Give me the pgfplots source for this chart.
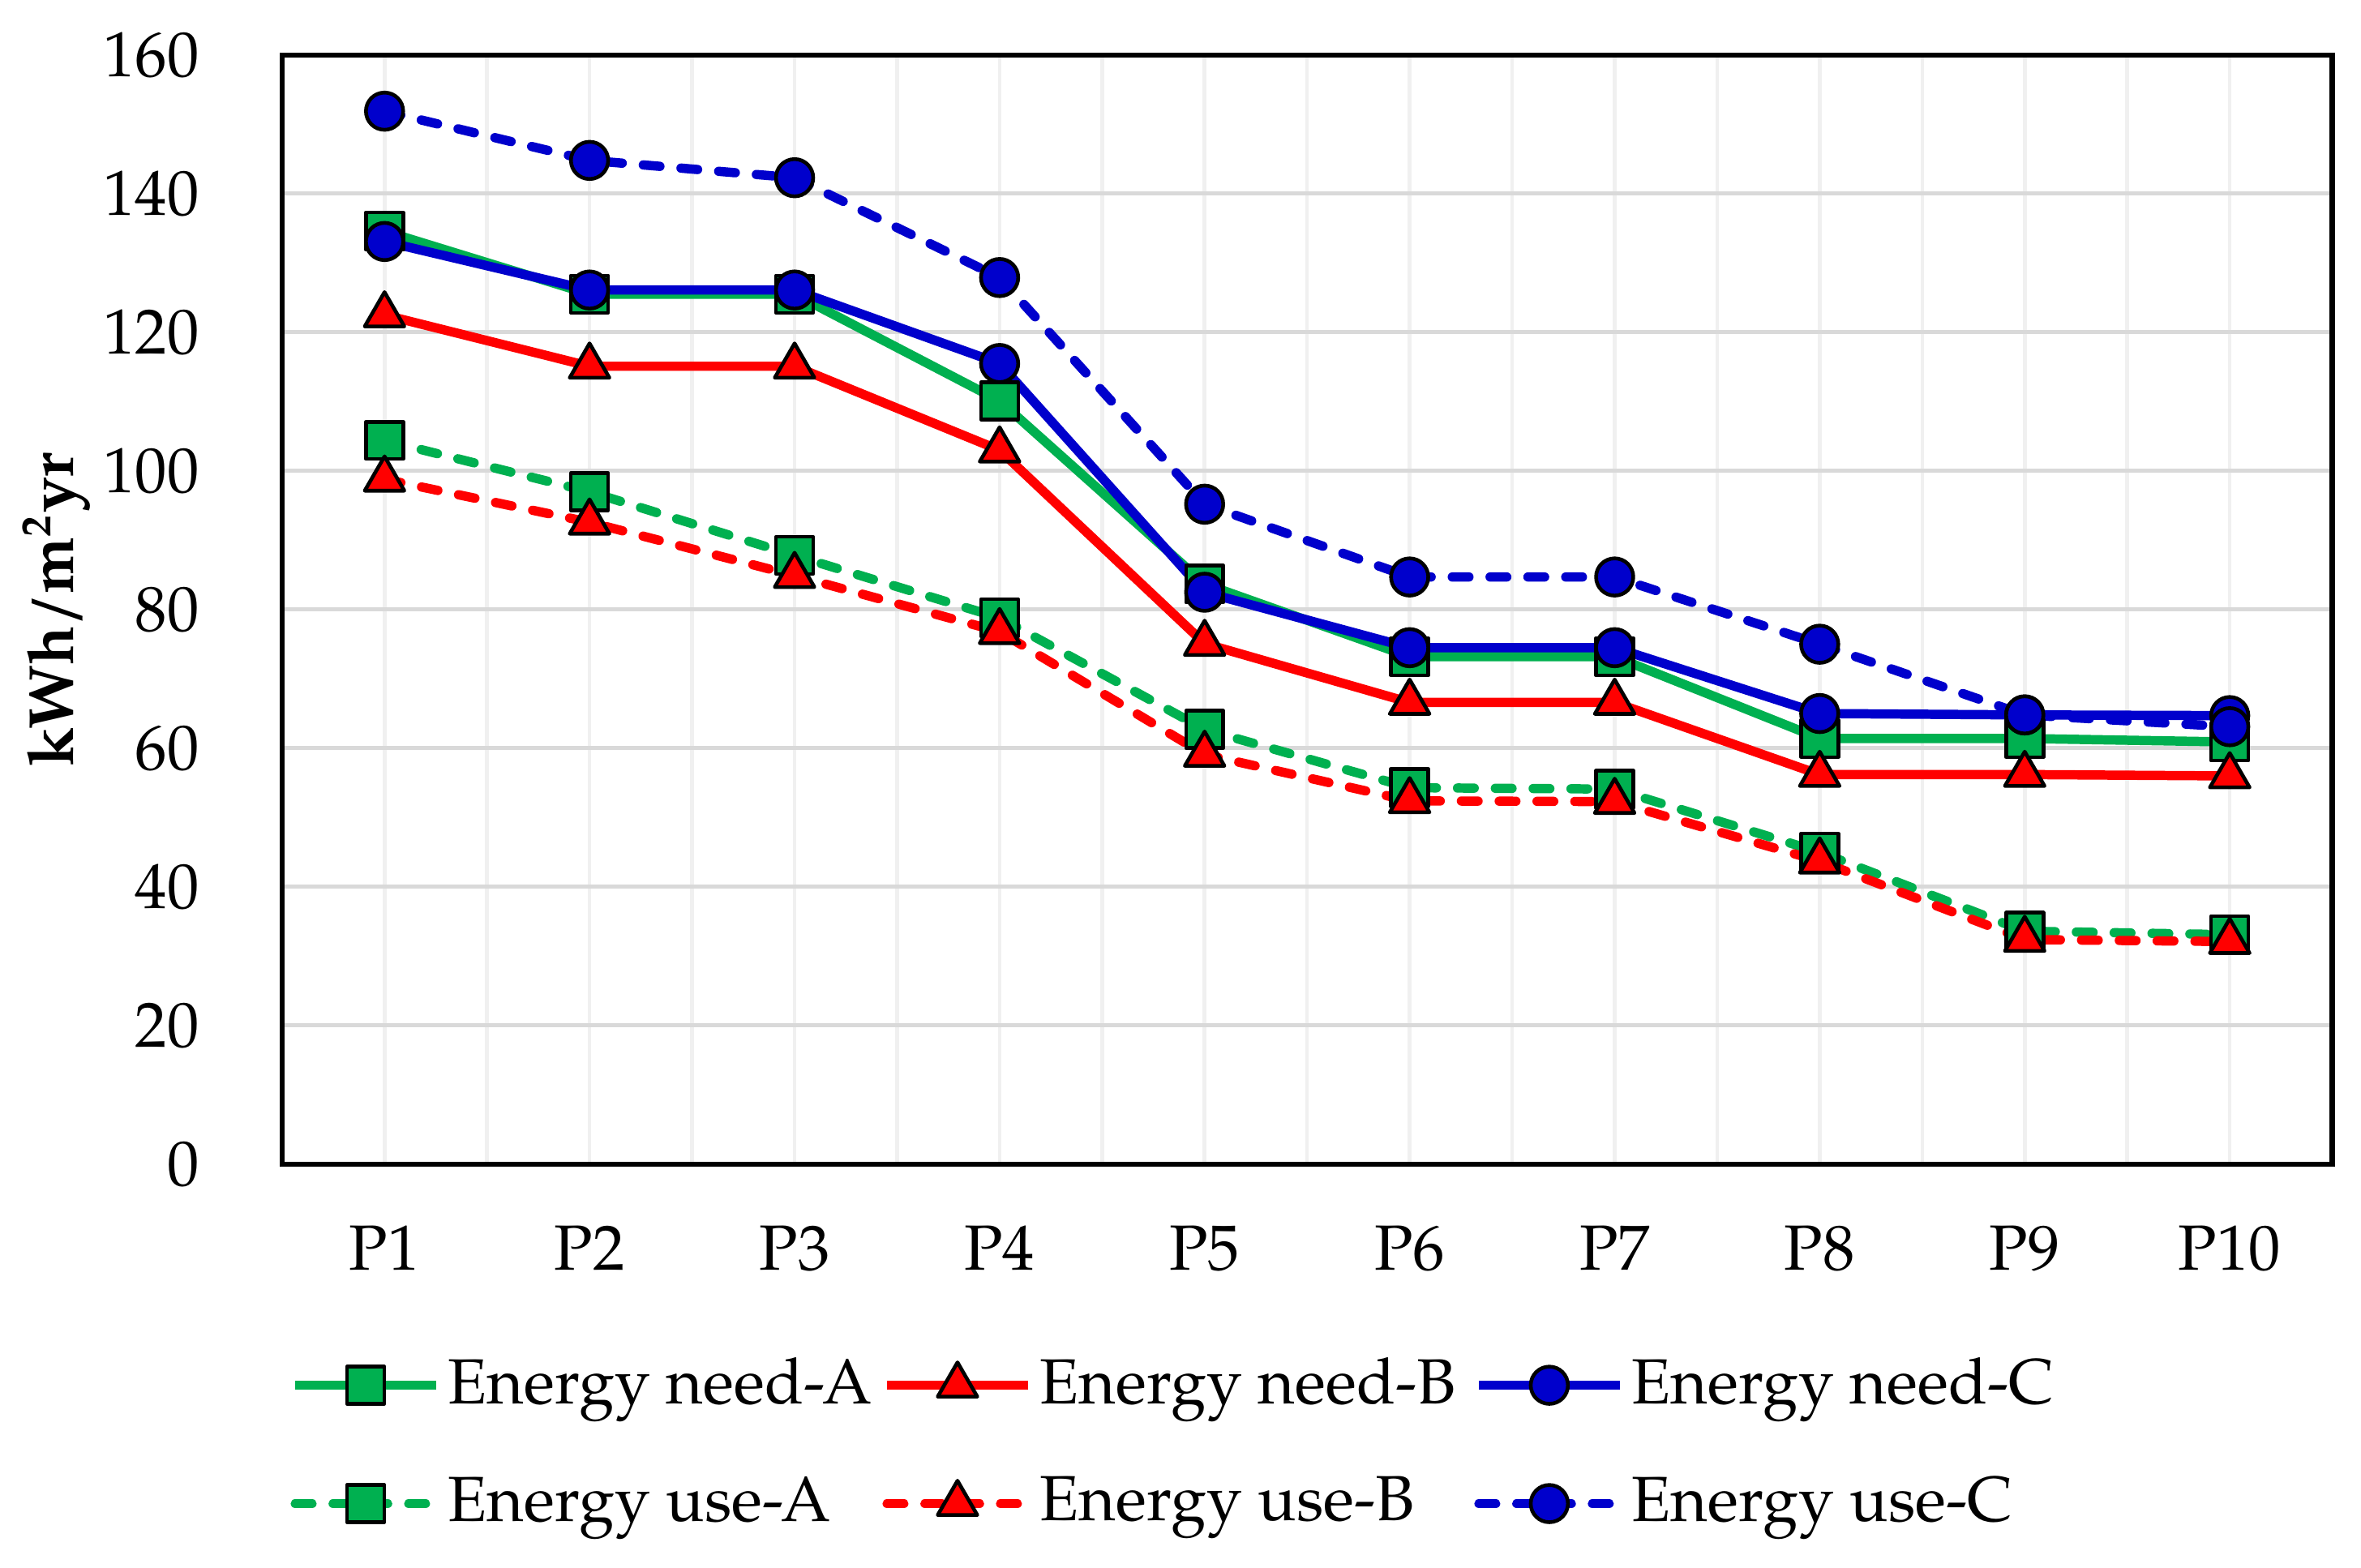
\documentclass[border=0pt]{standalone}
\usepackage{fontspec}
\setmainfont{TeX Gyre Pagella}
\usepackage{pgfplots}
\pgfplotsset{compat=1.18}
\definecolor{cgreen}{HTML}{00B050}
\definecolor{cred}{HTML}{FF0000}
\definecolor{cblue}{HTML}{0000CC}
\definecolor{gridmaj}{HTML}{D9D9D9}
\definecolor{gridmin}{HTML}{F0F0F0}
\begin{document}
\fontsize{12}{14}\selectfont
\begin{tikzpicture}
\begin{axis}[
  scale only axis, width=13.55cm, height=7.33cm,
  xmin=0.5, xmax=10.5, ymin=0, ymax=160,
  xtick={1,2,3,4,5,6,7,8,9,10},
  xticklabels={P1,P2,P3,P4,P5,P6,P7,P8,P9,P10},
  minor xtick={1.5,2.5,3.5,4.5,5.5,6.5,7.5,8.5,9.5},
  ytick={0,20,40,60,80,100,120,140,160},
  xmajorgrids, xminorgrids, ymajorgrids,
  x grid style={color=gridmin, line width=0.7pt},
  y grid style={color=gridmaj, line width=0.8pt},
  major tick length=0pt, minor tick length=0pt,
  tick style={draw=none},
  axis line style={line width=1pt, black},
  /pgf/number format/assume math mode=true,
  xticklabel style={yshift=-2.6mm},
  yticklabel style={xshift=-4mm},
  ylabel={\textbf{kWh/m\textsuperscript{2}yr}},
  ylabel style={at={(axis description cs:-0.110,0.5)}, anchor=center},
  clip=false,
  legend columns=3,
  legend cell align=left,
  legend style={draw=none, fill=none, inner sep=0pt,
    at={(axis description cs:0,0)}, anchor=north west,
    xshift=0.5mm, yshift=-12.2mm,
    column sep=0mm, row sep=9pt,
    nodes={inner sep=0.5mm}},
  legend image code/.code={\draw[mark repeat=2,mark phase=2] plot coordinates {(0cm,0cm) (0.465cm,0cm) (0.93cm,0cm)};},
  every axis plot/.append style={line width=1.75pt, line join=round},
]
\addplot[cgreen, mark=square*, mark size=3.5pt, mark options={solid, draw=black, line width=0.7pt, fill=cgreen}]
 coordinates {(1,134.6)(2,125.5)(3,125.5)(4,110.1)(5,83.7)(6,73.2)(7,73.2)(8,61.4)(9,61.4)(10,60.9)};
\addlegendentry{\makebox[28.2mm][l]{Energy need-A}}
\addplot[cred, mark=triangle*, mark size=4.3pt, mark options={solid, draw=black, line width=0.7pt, fill=cred}]
 coordinates {(1,122.5)(2,115.1)(3,115.1)(4,103.0)(5,75.1)(6,66.6)(7,66.6)(8,56.2)(9,56.2)(10,56.0)};
\addlegendentry{\makebox[28.2mm][l]{Energy need-B}}
\addplot[cblue, mark=*, mark size=3.5pt, mark options={solid, draw=black, line width=0.7pt, fill=cblue}]
 coordinates {(1,133.1)(2,126.1)(3,126.1)(4,115.5)(5,82.5)(6,74.5)(7,74.5)(8,65.0)(9,64.8)(10,64.7)};
\addlegendentry{\makebox[28.2mm][l]{Energy need-C}}
\addplot[cgreen, line cap=round, dash pattern=on 1.1mm off 1.4mm, mark=square*, mark size=3.5pt, mark options={solid, draw=black, line width=0.7pt, fill=cgreen}]
 coordinates {(1,104.4)(2,97.0)(3,87.8)(4,78.8)(5,62.7)(6,54.3)(7,54.1)(8,45.0)(9,33.6)(10,33.1)};
\addlegendentry{\makebox[28.2mm][l]{Energy use-A}}
\addplot[cred, line cap=round, dash pattern=on 1.1mm off 1.4mm, mark=triangle*, mark size=4.3pt, mark options={solid, draw=black, line width=0.7pt, fill=cred}]
 coordinates {(1,98.8)(2,92.6)(3,84.9)(4,76.8)(5,59.1)(6,52.4)(7,52.3)(8,43.7)(9,32.4)(10,32.1)};
\addlegendentry{\makebox[28.2mm][l]{Energy use-B}}
\addplot[cblue, line cap=round, dash pattern=on 1.1mm off 1.4mm, mark=*, mark size=3.5pt, mark options={solid, draw=black, line width=0.7pt, fill=cblue}]
 coordinates {(1,151.9)(2,144.8)(3,142.3)(4,127.9)(5,95.2)(6,84.7)(7,84.7)(8,75.0)(9,64.8)(10,63.1)};
\addlegendentry{\makebox[28.2mm][l]{Energy use-C}}
\coordinate (BL) at (rel axis cs:0,0);
\coordinate (TR) at (rel axis cs:1,1);
\end{axis}
\path (BL) ++(-1.864cm,-2.668cm) rectangle ([xshift=0.19cm,yshift=0.364cm]TR);
\end{tikzpicture}
\end{document}
